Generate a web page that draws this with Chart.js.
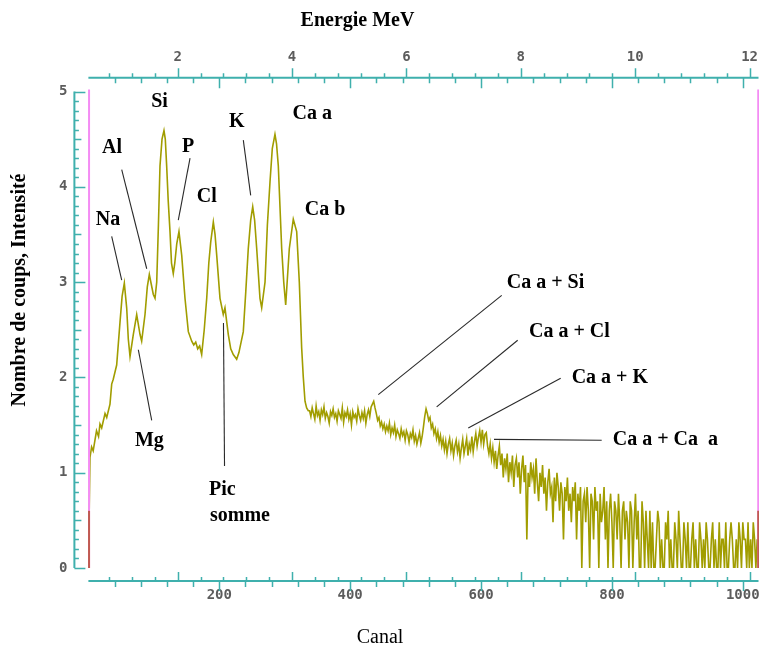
<!DOCTYPE html>
<html>
<head>
<meta charset="utf-8">
<script src="https://cdn.jsdelivr.net/npm/chart.js@4.4.0/dist/chart.umd.min.js"></script>
<style>
  html, body { margin: 0; padding: 0; background: #fff; }
</style>
</head>
<body>
<canvas id="spectre" width="759" height="649"></canvas>
<script>
// Spectre : canal -> intensite (log des coups)
const peakCanal = [0, 2.4, 4.9, 7.3, 12.4, 15.5, 17.7, 20.3, 25.4, 28, 33, 35.6, 38, 43.2, 48.3, 51.5, 54.9, 58.5, 61, 63.6,
  68.6, 73.8, 78.9, 81.4, 86.5, 90, 93.1, 96, 99.2, 101.8, 104.4, 107, 109.4, 112.5, 115.5, 117.5, 119.6, 122, 124.7, 127,
  129.7, 132, 135, 138.4, 142.6, 147.6, 152.7, 157.9, 161, 164, 167, 170, 173.1, 177, 180.8, 184, 186.9, 190.9, 193.5, 196.1,
  201.1, 206.1, 208.7, 213.8, 217.5, 221.4, 226.6, 230, 236.7, 240.5, 244.3, 248, 251.1, 254, 257.2, 262.2, 264.8, 269.9, 273.5, 277.5,
  281, 285.1, 287.5, 290.2, 295.4, 298.5, 301.5, 307, 313.1, 318.3, 322.3, 325.9, 328.4, 331, 333.5, 336];
const peakValue = [0, 1.16, 1.27, 1.23, 1.44, 1.38, 1.51, 1.47, 1.62, 1.58, 1.72, 1.93, 1.98, 2.13, 2.58, 2.85, 2.99, 2.73, 2.4, 2.22,
  2.45, 2.66, 2.45, 2.38, 2.66, 2.95, 3.08, 2.98, 2.87, 2.83, 3.0, 3.6, 4.22, 4.5, 4.59, 4.5, 4.22, 3.85, 3.53, 3.2,
  3.09, 3.2, 3.4, 3.53, 3.28, 2.83, 2.48, 2.38, 2.34, 2.37, 2.30, 2.33, 2.24, 2.5, 2.83, 3.2, 3.42, 3.63, 3.5, 3.28,
  2.83, 2.66, 2.73, 2.45, 2.3, 2.24, 2.19, 2.26, 2.48, 2.9, 3.35, 3.65, 3.79, 3.65, 3.35, 2.83, 2.73, 3.0, 3.6, 4.05,
  4.4, 4.55, 4.45, 4.22, 3.35, 3.0, 2.76, 3.35, 3.66, 3.53, 3.0, 2.31, 2.0, 1.75, 1.68, 1.65];

// fond bruite, un point tous les 2 canaux a partir du canal 338
const tailStart = 338;
const tailStep = 2;
const tailValue = [
  1.65, 1.59, 1.68, 1.62, 1.56, 1.70, 1.60, 1.64, 1.55, 1.66,
  1.61, 1.69, 1.57, 1.63, 1.59, 1.52, 1.64, 1.60, 1.67, 1.58,
  1.62, 1.54, 1.65, 1.61, 1.57, 1.68, 1.53, 1.63, 1.59, 1.66,
  1.56, 1.62, 1.50, 1.64, 1.58, 1.61, 1.54, 1.67, 1.60, 1.55,
  1.63, 1.57, 1.65, 1.52, 1.61, 1.66, 1.59, 1.69, 1.72, 1.75,
  1.68, 1.62, 1.55, 1.58, 1.49, 1.53, 1.46, 1.51, 1.43, 1.49,
  1.44, 1.52, 1.40, 1.47, 1.42, 1.50, 1.38, 1.45, 1.41, 1.36,
  1.46, 1.39, 1.43, 1.34, 1.44, 1.40, 1.32, 1.41, 1.37, 1.45,
  1.33, 1.39, 1.30, 1.36, 1.42, 1.31, 1.38, 1.48, 1.59, 1.67,
  1.62, 1.55, 1.58, 1.47, 1.51, 1.41, 1.46, 1.36, 1.43, 1.32,
  1.39, 1.28, 1.35, 1.24, 1.33, 1.20, 1.30, 1.36, 1.23, 1.31,
  1.18, 1.28, 1.34, 1.22, 1.30, 1.15, 1.26, 1.35, 1.20, 1.28,
  1.36, 1.18, 1.30, 1.24, 1.38, 1.22, 1.33, 1.41, 1.28, 1.37,
  1.44, 1.32, 1.45, 1.30, 1.40, 1.42, 1.28, 1.20, 1.30, 1.15,
  1.26, 1.11, 1.23, 1.04, 1.18, 1.28, 1.08, 1.20, 0.95, 1.15,
  1.04, 1.20, 0.90, 1.11, 1.00, 1.18, 0.85, 1.08, 1.15, 0.95,
  1.11, 0.78, 1.04, 1.18, 0.90, 1.08, 0.30, 1.00, 0.85, 1.11,
  0.95, 1.04, 0.78, 1.15, 0.90, 0.70, 1.00, 0.85, 1.08, 0.78,
  0.95, 0.60, 0.90, 1.04, 0.78, 0.85, 0.48, 0.95, 0.70, 1.00,
  0.85, 0.60, 0.90, 0.78, 0.30, 0.85, 0.70, 0.95, 0.60, 0.78,
  0.48, 0.85, 0.70, 0.90, 0.30, 0.78, 0.60, 0.85, 0.00, 0.70,
  0.78, 0.48, 0.85, 0.60, 0.00, 0.78, 0.70, 0.30, 0.85, 0.60,
  0.70, 0.00, 0.78, 0.48, 0.60, 0.85, 0.30, 0.70, 0.00, 0.60,
  0.78, 0.48, 0.00, 0.70, 0.60, 0.30, 0.78, 0.48, 0.00, 0.60,
  0.70, 0.30, 0.60, 0.48, 0.00, 0.70, 0.60, 0.00, 0.48, 0.78,
  0.30, 0.60, 0.00, 0.00, 0.70, 0.48, 0.00, 0.60, 0.30, 0.00,
  0.60, 0.00, 0.48, 0.00, 0.00, 0.30, 0.60, 0.48, 0.00, 0.30,
  0.00, 0.00, 0.48, 0.30, 0.60, 0.00, 0.30, 0.00, 0.00, 0.48,
  0.30, 0.00, 0.60, 0.30, 0.00, 0.00, 0.48, 0.30, 0.00, 0.48,
  0.00, 0.00, 0.30, 0.48, 0.00, 0.30, 0.00, 0.00, 0.48, 0.30,
  0.00, 0.30, 0.00, 0.48, 0.30, 0.00, 0.00, 0.30, 0.48, 0.00,
  0.30, 0.00, 0.00, 0.48, 0.00, 0.30, 0.30, 0.00, 0.48, 0.00,
  0.00, 0.30, 0.48, 0.30, 0.00, 0.00, 0.30, 0.00, 0.48, 0.30,
  0.00, 0.48, 0.30, 0.30, 0.00, 0.48, 0.00, 0.30, 0.00, 0.48,
  0.30, 0.00, 0.30, 0.00
];

// graduations
const canalLabels = [200, 400, 600, 800, 1000];
const energyLabels = [2, 4, 6, 8, 10, 12];
const intensityLabels = [0, 1, 2, 3, 4, 5];
const energyAtCanal0 = 0.439;     // MeV
const energyAtCanal1024 = 12.156; // MeV

// etiquettes des pics (position en canal / intensite)
const peakNames = [
  { text: 'Si', c: 108.7, v: 4.89, align: 'center' },
  { text: 'Al', c: 36.1, v: 4.41, align: 'center' },
  { text: 'P', c: 152.2, v: 4.42, align: 'center' },
  { text: 'Na', c: 30, v: 3.65, align: 'center' },
  { text: 'Cl', c: 180.8, v: 3.90, align: 'center' },
  { text: 'K', c: 226.6, v: 4.68, align: 'center' },
  { text: 'Ca a', c: 342.1, v: 4.77, align: 'center' },
  { text: 'Ca b', c: 361.6, v: 3.76, align: 'center' },
  { text: 'Mg', c: 93.1, v: 1.33, align: 'center' },
  { text: 'Pic', c: 184.4, v: 0.82, align: 'left' },
  { text: 'somme', c: 185.8, v: 0.55, align: 'left' },
  { text: 'Ca a + Si', c: 639.2, v: 2.99, align: 'left' },
  { text: 'Ca a + Cl', c: 673.3, v: 2.48, align: 'left' },
  { text: 'Ca a + K', c: 738.5, v: 2.00, align: 'left' },
  { text: 'Ca a + Ca  a', c: 801.2, v: 1.34, align: 'left' }
];
const leaders = [
  [50.9, 4.18, 89.1, 3.14],
  [155.3, 4.30, 137.4, 3.65],
  [35.6, 3.48, 50.9, 3.02],
  [236.7, 4.49, 248, 3.91],
  [76.3, 2.29, 96.7, 1.55],
  [206.4, 2.57, 208, 1.07],
  [631.6, 2.86, 443, 1.82],
  [656, 2.39, 532.2, 1.69],
  [721.7, 1.99, 580.5, 1.47],
  [619.8, 1.35, 784.4, 1.34]
];

const canal = peakCanal.concat(tailValue.map((_, i) => tailStart + i * tailStep));
const intensity = peakValue.concat(tailValue);

const TEAL = '#3fb0ad';
const SERIF = '"Liberation Serif", "Times New Roman", serif';

const decor = {
  id: 'decor',
  afterDatasetsDraw(chart) {
    const { ctx, scales: { x, y } } = chart;
    ctx.save();
    ctx.lineWidth = 2;
    [1, 1023.6].forEach(c => {
      const px = x.getPixelForValue(c);
      ctx.strokeStyle = '#f48cf4';
      ctx.beginPath();
      ctx.moveTo(px, y.getPixelForValue(5) - 2);
      ctx.lineTo(px, y.getPixelForValue(0));
      ctx.stroke();
      ctx.strokeStyle = '#c05a50';
      ctx.beginPath();
      ctx.moveTo(px, y.getPixelForValue(0.6));
      ctx.lineTo(px, y.getPixelForValue(0));
      ctx.stroke();
    });
    ctx.restore();
  },
  afterDraw(chart) {
    const { ctx, chartArea: a, scales: { x, x2, y } } = chart;
    ctx.save();
    const yb = a.bottom + 13, yt = a.top - 13.8, xl = a.left - 14;

    // lignes d'axes
    ctx.strokeStyle = TEAL;
    ctx.lineWidth = 2;
    ctx.beginPath();
    ctx.moveTo(a.left, yb); ctx.lineTo(a.right, yb);
    ctx.moveTo(a.left, yt); ctx.lineTo(a.right, yt);
    ctx.moveTo(xl, y.getPixelForValue(5)); ctx.lineTo(xl, y.getPixelForValue(0));
    ctx.stroke();

    ctx.lineWidth = 1.5;
    ctx.beginPath();
    // canal : vers le bas
    for (let k = 1; k <= 25; k++) {
      const c = k * 40;
      const px = Math.round(x.getPixelForValue(c)) + 0.5;
      const major = c % 200 === 0;
      ctx.moveTo(px, yb); ctx.lineTo(px, yb + (major ? 10 : 6));
      ctx.moveTo(px, yt); ctx.lineTo(px, yt + (major ? 10.5 : 5.5));
    }
    // energie : vers le haut
    for (let k = 1; k <= 30; k++) {
      const e = k * 0.4;
      if (e < energyAtCanal0 || e > energyAtCanal1024) continue;
      const px = Math.round(x2.getPixelForValue(e)) + 0.5;
      const major = k % 5 === 0;
      ctx.moveTo(px, yb); ctx.lineTo(px, yb - (major ? 9 : 4));
      ctx.moveTo(px, yt); ctx.lineTo(px, yt - (major ? 9.5 : 4.5));
    }
    // intensite
    for (let k = 0; k <= 50; k++) {
      const py = Math.round(y.getPixelForValue(k / 10)) + 0.5;
      const len = k % 10 === 0 ? 11 : (k % 5 === 0 ? 7 : 4.5);
      ctx.moveTo(xl, py); ctx.lineTo(xl + len, py);
    }
    ctx.stroke();

    // traits de rappel
    ctx.strokeStyle = '#2a2a2a';
    ctx.lineWidth = 1.1;
    leaders.forEach(([c1, v1, c2, v2]) => {
      ctx.beginPath();
      ctx.moveTo(x.getPixelForValue(c1), y.getPixelForValue(v1));
      ctx.lineTo(x.getPixelForValue(c2), y.getPixelForValue(v2));
      ctx.stroke();
    });

    // noms des pics
    ctx.fillStyle = '#000';
    ctx.font = 'bold 20px ' + SERIF;
    ctx.textBaseline = 'middle';
    peakNames.forEach(p => {
      ctx.textAlign = p.align;
      ctx.fillText(p.text, x.getPixelForValue(p.c), y.getPixelForValue(p.v));
    });

    // titres
    ctx.textBaseline = 'alphabetic';
    ctx.textAlign = 'center';
    ctx.font = 'bold 20px ' + SERIF;
    ctx.fillText('Energie MeV', 357.5, 26);
    ctx.font = '20px ' + SERIF;
    ctx.fillText('Canal', 380, 643);
    ctx.font = 'bold 20px ' + SERIF;
    ctx.translate(25, 290);
    ctx.rotate(-Math.PI / 2);
    ctx.fillText('Nombre de coups, Intensité', 0, 0);
    ctx.restore();
  }
};

const tickFont = { family: '"DejaVu Sans Mono", monospace', size: 14, weight: 'bold' };
const plain = v => String(v);

new Chart(document.getElementById('spectre'), {
  type: 'line',
  data: {
    datasets: [{
      data: canal.map((c, i) => ({ x: c, y: intensity[i] })),
      borderColor: '#a19d00',
      borderWidth: 1.6,
      pointRadius: 0,
      tension: 0,
      fill: false
    }]
  },
  options: {
    responsive: false,
    animation: false,
    devicePixelRatio: 1,
    layout: { padding: { left: 0, right: 0.5, top: 0, bottom: 0 } },
    plugins: { legend: { display: false }, tooltip: { enabled: false } },
    scales: {
      x: {
        type: 'linear', position: 'bottom', min: 0, max: 1024,
        grid: { display: false, drawTicks: false }, border: { display: false },
        afterBuildTicks: s => { s.ticks = canalLabels.map(v => ({ value: v })); },
        afterFit: s => { s.height = 81; s.paddingLeft = 0; s.paddingRight = 0; },
        ticks: { font: tickFont, color: '#5c5c5c', padding: 19, maxRotation: 0, autoSkip: false, callback: plain }
      },
      x2: {
        type: 'linear', position: 'top', min: energyAtCanal0, max: energyAtCanal1024,
        grid: { display: false, drawTicks: false }, border: { display: false },
        afterBuildTicks: s => { s.ticks = energyLabels.map(v => ({ value: v })); },
        afterFit: s => { s.height = 91.5; s.paddingLeft = 0; s.paddingRight = 0; },
        ticks: { font: tickFont, color: '#5c5c5c', padding: 26, maxRotation: 0, autoSkip: false, callback: plain }
      },
      y: {
        type: 'linear', min: 0, max: 5,
        grid: { display: false, drawTicks: false }, border: { display: false },
        afterBuildTicks: s => { s.ticks = intensityLabels.map(v => ({ value: v })); },
        afterFit: s => { s.width = 88.4; s.paddingTop = 0; s.paddingBottom = 0; },
        ticks: { font: tickFont, color: '#5c5c5c', padding: 21, callback: plain }
      }
    }
  },
  plugins: [decor]
});
</script>
</body>
</html>
